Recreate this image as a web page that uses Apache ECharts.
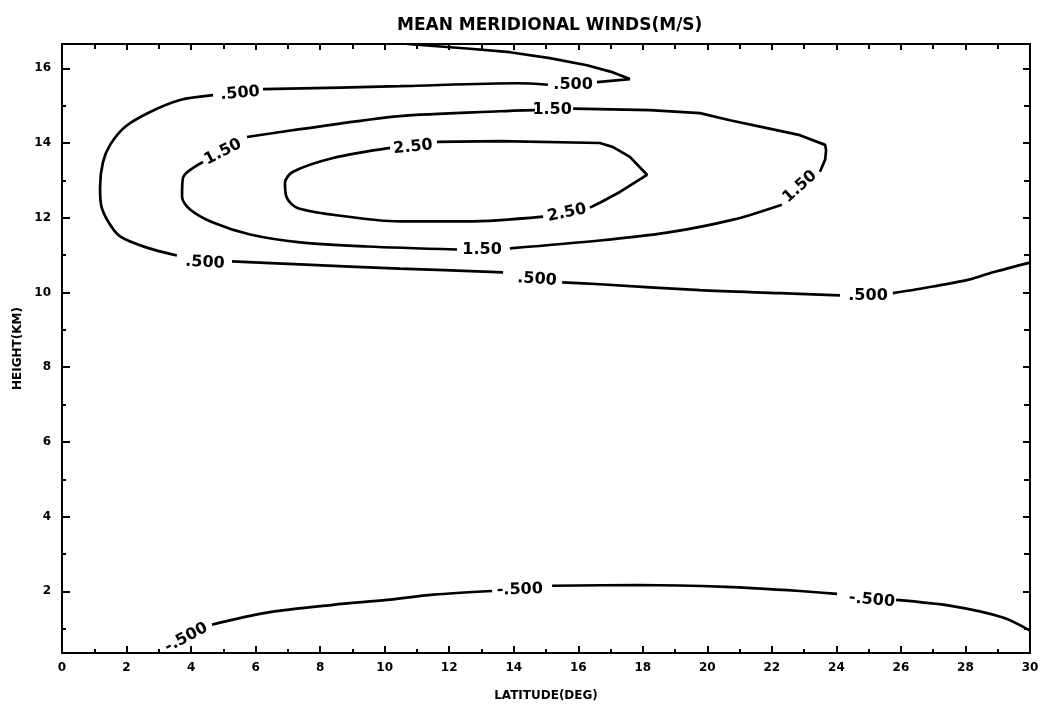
<!DOCTYPE html>
<html><head><meta charset="utf-8">
<script src="https://cdn.jsdelivr.net/npm/echarts@6/dist/echarts.min.js"></script>
<style>html,body{margin:0;padding:0;background:#fff}#c{width:1042px;height:707px}</style>
</head><body><div id="c"></div>
<script>
const titleText = 'MEAN MERIDIONAL WINDS(M/S)';
const xName = 'LATITUDE(DEG)';
const yName = 'HEIGHT(KM)';
const xRange = [0, 30];
const yRange = [0.35, 16.65];
const yMajorTicks = [2, 4, 6, 8, 10, 12, 14, 16];
const yMinorTicks = [1, 3, 5, 7, 9, 11, 13, 15];

// contour 0.500 (upper), split into segments at the inline labels: [lat, height]
const contour05Upper = [
  [[10.7,16.65],[12.55,16.53],[13.88,16.43],[15.12,16.27],[16.27,16.08],[17.08,15.89],[17.60,15.71],[16.58,15.63]],
  [[15.06,15.56],[14.13,15.60],[10.47,15.52],[6.23,15.44]],
  [[4.68,15.28],[3.66,15.15],[2.73,14.83],[1.95,14.43],[1.49,13.95],[1.27,13.49],[1.18,12.83],[1.21,12.35],[1.43,11.90],[1.80,11.50],[2.63,11.20],[3.56,10.99]],
  [[5.27,10.83],[7.38,10.75],[10.47,10.64],[13.67,10.54]],
  [[15.50,10.27],[16.67,10.22],[19.77,10.06],[22.25,9.98],[24.11,9.92]],
  [[25.75,9.98],[26.99,10.16],[28.14,10.35],[28.85,10.54],[30,10.80]]
];
// contour 1.50
const contour15 = [
  [[5.73,14.16],[7.38,14.37],[10.47,14.72],[13.57,14.85],[14.66,14.88]],
  [[15.84,14.92],[18.22,14.88],[19.77,14.80],[20.70,14.61],[21.85,14.40],[22.87,14.21],[23.65,13.95],[23.68,13.81],[23.65,13.55],[23.49,13.23]],
  [[22.31,12.35],[20.80,11.95],[18.75,11.60],[16.67,11.39],[13.88,11.18]],
  [[12.24,11.15],[9.45,11.23],[7.38,11.34],[5.83,11.55],[4.68,11.87],[3.97,12.22],[3.72,12.56],[3.75,13.07],[4.37,13.49]]
];
// contour 2.50
const contour25 = [
  [[11.62,14.03],[13.57,14.05],[16.67,14.00],[17.08,13.89],[17.60,13.63],[18.13,13.15],[17.29,12.69],[16.67,12.40],[16.36,12.27]],
  [[14.91,12.03],[12.55,11.90],[10.47,11.90],[8.40,12.08],[7.28,12.27],[6.97,12.53],[6.91,12.93],[7.16,13.23],[8.40,13.60],[10.17,13.87]]
];
// contour -0.500 (lower)
const contourM05Lower = [
  [[4.65,1.11],[6.35,1.43],[8.40,1.64],[10.07,1.77],[11.50,1.91],[13.33,2.01]],
  [[15.19,2.15],[17.88,2.17],[20.58,2.12],[22.87,2.01],[24.02,1.93]],
  [[25.85,1.77],[27.55,1.61],[29.16,1.30],[30,0.95]]
];

// inline contour labels
const labelText = ['.500','.500','.500','.500','.500','1.50','1.50','1.50','1.50','2.50','2.50','-.500','-.500','-.500'];
const labelAt = [[15.84,15.57],[5.52,15.33],[4.43,10.80],[14.72,10.35],[24.98,9.90],[4.99,13.76],[15.19,14.88],[22.87,12.83],[13.02,11.15],[10.88,13.89],[15.65,12.13],[3.85,0.76],[14.19,2.04],[25.10,1.77]];
const labelAngle = [0,5,-3,-4,0,27,0,42,0,6,12,28,2,-5];

const lineSeries = [];
[contour05Upper, contour15, contour25, contourM05Lower].forEach((c, ci) => {
  c.forEach((seg, si) => {
    const sharp = (ci === 0 && si === 0) || (ci === 1 && si === 1) || (ci === 2 && si === 0);
    lineSeries.push({
      type: 'line', data: seg, showSymbol: false, symbol: 'none', smooth: sharp ? false : 0.3,
      lineStyle: { color: '#000', width: 2.7 }, silent: true, z: 3,
      xAxisIndex: 0, yAxisIndex: 0, clip: true
    });
  });
});

const labelSeries = {
  type: 'scatter', xAxisIndex: 0, yAxisIndex: 0, symbolSize: 1,
  itemStyle: { color: 'rgba(0,0,0,0)' }, silent: true, z: 5,
  data: labelText.map((t, i) => ({
    value: labelAt[i], name: t,
    label: { rotate: labelAngle[i] }
  })),
  label: {
    show: true, position: 'inside', formatter: p => p.name,
    color: '#000', opacity: 1, textBorderWidth: 0,
    fontFamily: 'DejaVu Sans', fontWeight: 'bold', fontSize: 16
  },
  labelLayout: { hideOverlap: false }
};

const axisFont = { color: '#000', fontFamily: 'DejaVu Sans', fontWeight: 'bold', fontSize: 12 };
const lineBlack = { show: true, lineStyle: { color: '#000', width: 2 } };

function yAx(pos, ticks, len, withLabel) {
  return {
    type: 'value', position: pos, min: yRange[0], max: yRange[1],
    axisLine: lineBlack,
    axisTick: { show: true, inside: true, length: len, customValues: ticks, lineStyle: { color: '#000', width: 2 } },
    axisLabel: withLabel ? Object.assign({ show: true, customValues: ticks, margin: 11 }, axisFont) : { show: false },
    splitLine: { show: false },
    name: withLabel ? yName : '', nameLocation: 'middle', nameGap: 38, nameRotate: 90,
    nameTextStyle: axisFont
  };
}

const chart = echarts.init(document.getElementById('c'), null, { renderer: 'canvas' });
chart.setOption({
  backgroundColor: '#fff',
  animation: false,
  title: {
    text: titleText, left: 392, top: 12,
    textStyle: { color: '#000', fontFamily: 'DejaVu Sans', fontWeight: 'bold', fontSize: 17 }
  },
  grid: { left: 62, right: 12, top: 44, bottom: 52, containLabel: false },
  xAxis: [
    {
      type: 'value', position: 'bottom', min: xRange[0], max: xRange[1], interval: 2,
      axisLine: lineBlack,
      axisTick: { show: true, inside: true, length: 7, lineStyle: { color: '#000', width: 2 } },
      minorTick: { show: true, splitNumber: 2, length: 4, lineStyle: { color: '#000', width: 2 } },
      axisLabel: Object.assign({ show: true, margin: 9 }, axisFont),
      splitLine: { show: false }, minorSplitLine: { show: false },
      name: xName, nameLocation: 'middle', nameGap: 37, nameTextStyle: axisFont
    },
    {
      type: 'value', position: 'top', min: xRange[0], max: xRange[1], interval: 2,
      axisLine: lineBlack,
      axisTick: { show: true, inside: true, length: 6, lineStyle: { color: '#000', width: 2 } },
      minorTick: { show: true, splitNumber: 2, length: 5, lineStyle: { color: '#000', width: 2 } },
      axisLabel: { show: false }, splitLine: { show: false }
    }
  ],
  yAxis: [
    yAx('left', yMajorTicks, 8, true),
    yAx('left', yMinorTicks, 4, false),
    yAx('right', yMajorTicks, 7, false),
    yAx('right', yMinorTicks, 6, false)
  ],
  series: lineSeries.concat([labelSeries])
});
</script></body></html>
